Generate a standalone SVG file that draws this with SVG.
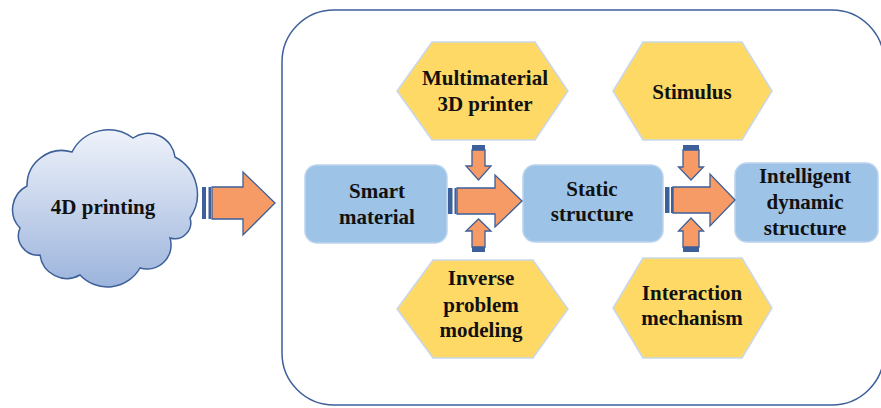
<svg xmlns="http://www.w3.org/2000/svg" width="881" height="408" viewBox="0 0 881 408">
  <style>
    .lbl { font-family: "Liberation Serif", "Times New Roman", serif; font-weight: bold; font-size: 21px; fill: #111; text-anchor: middle; }
    .hex { fill: #ffd966; stroke: #c9d7ec; stroke-width: 1.5; }
    .box { fill: #9dc3e6; stroke: #bdd4ee; stroke-width: 1.5; }
    .arr { fill: #f79b66; stroke: #3d5f9a; stroke-width: 1.3; stroke-linejoin: miter; }
    .stripe { fill: #3d5f9a; }
  </style>
  <defs>
    <linearGradient id="cloudFill" x1="0" y1="0" x2="0" y2="1">
      <stop offset="0" stop-color="#eef2fa"/>
      <stop offset="1" stop-color="#9cb4dc"/>
    </linearGradient>
  </defs>

  <!-- frame -->
  <rect x="282" y="10" width="602" height="395" rx="52" ry="52" fill="#fff" stroke="#3d5f9a" stroke-width="1.5"/>

  <!-- source cloud -->
  <g id="cloud">
    <path d="M27,186 A35,35 0 0 1 72,152 A41,41 0 0 1 133,138 A27,27 0 0 1 175,157 A42,42 0 0 1 190,218 A16,16 0 0 1 170,238 A24,24 0 0 1 140,268 A37.5,37.5 0 0 1 80,275 A27,27 0 0 1 40,255 A19.5,19.5 0 0 1 20,228 A26.5,26.5 0 0 1 27,186 Z" fill="url(#cloudFill)" stroke="#3d5f9a" stroke-width="1.5"/>
    <text class="lbl" x="103" y="214">4D printing</text>
  </g>

  <!-- boxes -->
  <g id="smart-material">
    <rect class="box" x="305" y="165" width="142" height="78" rx="12"/>
    <text class="lbl" x="377" y="198">Smart</text>
    <text class="lbl" x="377" y="224">material</text>
  </g>
  <g id="static-structure">
    <rect class="box" x="523" y="165" width="140" height="77" rx="12"/>
    <text class="lbl" x="592" y="196">Static</text>
    <text class="lbl" x="592" y="221">structure</text>
  </g>
  <g id="intelligent-structure">
    <rect class="box" x="735" y="163" width="143" height="79" rx="12"/>
    <text class="lbl" x="805" y="183">Intelligent</text>
    <text class="lbl" x="805" y="209">dynamic</text>
    <text class="lbl" x="805" y="235">structure</text>
  </g>

  <!-- hexagons -->
  <g id="multimaterial-printer">
    <polygon class="hex" points="432,42 535,42 568,91 535,140 432,140 397,91"/>
    <text class="lbl" x="485" y="85">Multimaterial</text>
    <text class="lbl" x="485" y="111">3D printer</text>
  </g>
  <g id="stimulus">
    <polygon class="hex" points="643,42 742,42 772,91 742,140 643,140 613,91"/>
    <text class="lbl" x="692" y="99">Stimulus</text>
  </g>
  <g id="inverse-modeling">
    <polygon class="hex" points="433,260 533,260 568,309 533,358 433,358 397,309"/>
    <text class="lbl" x="481" y="285">Inverse</text>
    <text class="lbl" x="481" y="312">problem</text>
    <text class="lbl" x="481" y="337">modeling</text>
  </g>
  <g id="interaction-mechanism">
    <polygon class="hex" points="643,258 742,258 772,308 742,358 643,358 613,308"/>
    <text class="lbl" x="692" y="300">Interaction</text>
    <text class="lbl" x="692" y="325">mechanism</text>
  </g>

  <!-- connectors -->
  <g id="connectors">
    <!-- cloud to frame -->
    <rect class="stripe" x="202" y="187" width="4" height="32"/>
    <rect class="stripe" x="208.5" y="187" width="2.5" height="32"/>
    <path class="arr" d="M212,187 H243 V172 L275,203 L243,235 V219 H212 Z"/>

    <!-- smart material to static structure -->
    <rect class="stripe" x="448" y="188" width="4.5" height="26"/>
    <rect class="stripe" x="454.5" y="188" width="2" height="26"/>
    <path class="arr" d="M457,188 H495 V175 L522,201 L495,227 V214 H457 Z"/>

    <!-- static structure to intelligent structure -->
    <rect class="stripe" x="665" y="187" width="4.5" height="26"/>
    <rect class="stripe" x="671" y="187" width="2" height="26"/>
    <path class="arr" d="M673,187 H710 V174 L735,200 L710,226 V213 H673 Z"/>

    <!-- printer down -->
    <rect class="stripe" x="472" y="145" width="13" height="5"/>
    <path class="arr" d="M472,150 H485 V166 H491 L478.5,180 L466,166 H472 Z"/>
    <!-- modeling up -->
    <rect class="stripe" x="472" y="247" width="13" height="5"/>
    <path class="arr" d="M472,247 H485 V231 H491 L478.5,219 L466,231 H472 Z"/>

    <!-- stimulus down -->
    <rect class="stripe" x="683" y="145" width="16" height="5"/>
    <path class="arr" d="M683,150 H699 V167 H703.5 L691,180 L678.5,167 H683 Z"/>
    <!-- interaction up -->
    <rect class="stripe" x="683" y="247" width="16" height="5"/>
    <path class="arr" d="M683,247 H699 V231 H703.5 L691,218 L678.5,231 H683 Z"/>
  </g>
</svg>
